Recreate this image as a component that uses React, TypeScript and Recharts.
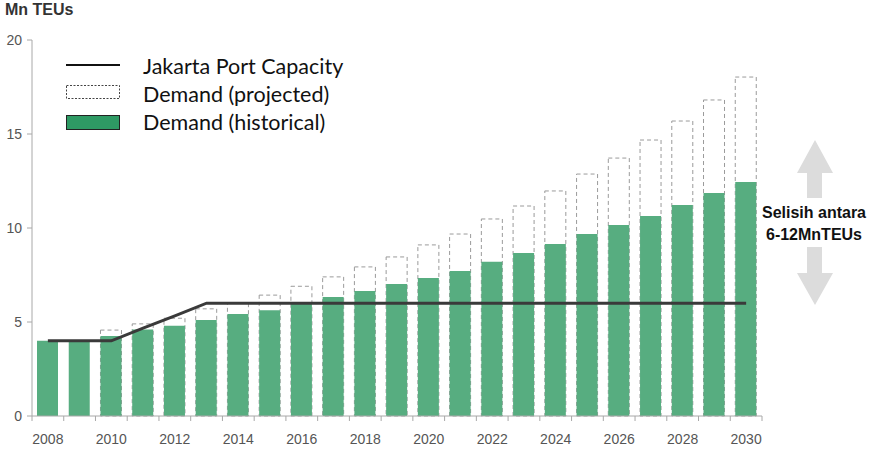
import { Bar, Line, XAxis, YAxis, ComposedChart } from "recharts";

const years = [
  "2008", "2009", "2010", "2011", "2012", "2013", "2014", "2015", "2016", "2017", "2018", "2019",
  "2020", "2021", "2022", "2023", "2024", "2025", "2026", "2027", "2028", "2029", "2030",
];
const historical = [
  4.0, 4.0, 4.25, 4.6, 4.8, 5.1, 5.43, 5.63, 6.05, 6.33, 6.65, 7.02,
  7.34, 7.71, 8.2, 8.67, 9.15, 9.68, 10.16, 10.64, 11.22, 11.86, 12.45,
];
const projected: (number | null)[] = [
  null, null, 4.57, 4.9, 5.2, 5.7, 6.0, 6.43, 6.9, 7.4, 7.93, 8.46,
  9.1, 9.68, 10.48, 11.17, 11.97, 12.87, 13.72, 14.68, 15.69, 16.81, 18.03,
];
const capacity = [
  4, 4, 4, 4.67, 5.33, 6, 6, 6, 6, 6, 6, 6,
  6, 6, 6, 6, 6, 6, 6, 6, 6, 6, 6,
];
const yTicks = [0, 5, 10, 15, 20];

const data = years.map((year, i) => ({
  year,
  historical: historical[i],
  projected: projected[i],
  capacity: capacity[i],
}));

const W = 873;
const H = 450;
const margin = { top: 40, right: 111, bottom: 0, left: 0 };
const yAxisWidth = 32;
const plotWidth = W - margin.left - margin.right - yAxisWidth;
const halfBand = plotWidth / years.length / 2;

const GREEN = "#57ad80";
const AXIS = "#a8a8a8";
const TEXT = "#555";

function XTick(props: any) {
  const { x, y, payload, index } = props;
  const last = index === years.length - 1;
  return (
    <g>
      <line x1={x - halfBand} x2={x - halfBand} y1={y} y2={y + 5} stroke={AXIS} />
      {last && <line x1={x + halfBand} x2={x + halfBand} y1={y} y2={y + 5} stroke={AXIS} />}
      {index % 2 === 0 && (
        <text x={x} y={y + 28} textAnchor="middle" fill={TEXT} fontSize={14} fontFamily="Liberation Sans, Arial, sans-serif">
          {payload.value}
        </text>
      )}
    </g>
  );
}

function LegendBox() {
  const font = "Lato, Calibri, sans-serif";
  return (
    <svg width={320} height={90} style={{ position: "absolute", left: 60, top: 50 }}>
      <line x1={6} x2={60} y1={15} y2={15} stroke="#111" strokeWidth={2} />
      <text x={83} y={24} fontSize={21.5} fontFamily={font} fill="#111">Jakarta Port Capacity</text>
      <rect x={6.5} y={35.5} width={53} height={13} fill="#fff" stroke="#444" strokeDasharray="2 1.5" />
      <text x={83} y={52} fontSize={21.5} fontFamily={font} fill="#111">Demand (projected)</text>
      <rect x={6.5} y={65.5} width={53} height={14} fill="#2e9a64" stroke="#222" />
      <text x={83} y={80} fontSize={21.5} fontFamily={font} fill="#111">Demand (historical)</text>
    </svg>
  );
}

export default function App() {
  return (
    <div style={{ position: "absolute", left: 0, top: 0, width: W, height: H, background: "#fff" }}>
      <div
        style={{
          position: "absolute", left: 5, top: 1, fontSize: 16, fontWeight: "bold",
          fontFamily: "Liberation Sans, Arial, sans-serif", color: "#333",
        }}
      >
        Mn TEUs
      </div>
      <ComposedChart width={W} height={H} data={data} margin={margin} barSize={21}>
        <XAxis
          xAxisId="a"
          dataKey="year"
          interval={0}
          height={34}
          tickSize={0}
          tickMargin={0}
          tickLine={false}
          axisLine={{ stroke: AXIS }}
          tick={<XTick />}
        />
        <XAxis xAxisId="b" dataKey="year" hide />
        <YAxis
          domain={[0, 20]}
          ticks={yTicks}
          width={yAxisWidth}
          tickSize={5}
          tickMargin={5}
          axisLine={{ stroke: AXIS }}
          tickLine={{ stroke: AXIS }}
          tick={{ fill: TEXT, fontSize: 14, fontFamily: "Liberation Sans, Arial, sans-serif" }}
        />
        <Bar
          xAxisId="b"
          dataKey="projected"
          name="Demand (projected)"
          fill="#fff"
          stroke="#9a9a9a"
          strokeDasharray="4 3"
          isAnimationActive={false}
        />
        <Bar xAxisId="a" dataKey="historical" name="Demand (historical)" fill={GREEN} isAnimationActive={false} />
        <Line
          xAxisId="a"
          dataKey="capacity"
          name="Jakarta Port Capacity"
          type="linear"
          stroke="#3a3a3a"
          strokeWidth={3}
          dot={false}
          activeDot={false}
          isAnimationActive={false}
        />
      </ComposedChart>
      <LegendBox />
      <svg width={W} height={H} style={{ position: "absolute", left: 0, top: 0, pointerEvents: "none" }}>
        <polygon points="815,140 833,173 822,173 822,198 807,198 807,173 797,173" fill="#dcdcdc" />
        <polygon points="815,305 833,273 822,273 822,247 807,247 807,273 797,273" fill="#dcdcdc" />
        <g fontFamily="Liberation Sans, Arial, sans-serif" fontWeight="bold" fontSize={16} fill="#111" textAnchor="middle">
          <text x={814} y={218}>Selisih antara</text>
          <text x={814} y={240}>6-12MnTEUs</text>
        </g>
      </svg>
    </div>
  );
}
